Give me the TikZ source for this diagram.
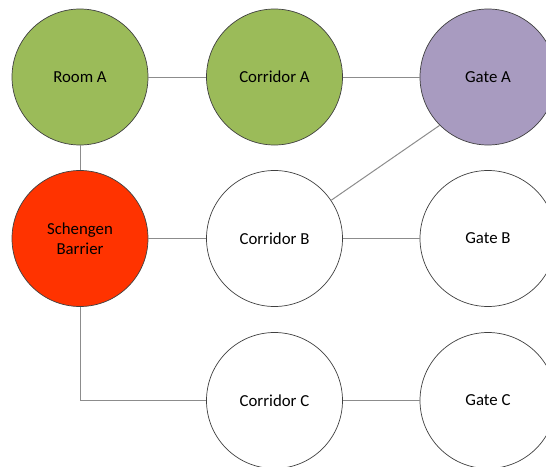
\documentclass[tikz,border=0pt]{standalone}
\usepackage{fontspec}
\setmainfont{Carlito}
\definecolor{roomgreen}{HTML}{9BBB59}
\definecolor{gatepurple}{HTML}{A89BC0}
\definecolor{barrierred}{HTML}{FF3300}
\definecolor{linegray}{HTML}{8C8C8C}
\definecolor{rimgray}{HTML}{404040}
\begin{document}
\begin{tikzpicture}[x=1pt,y=-1pt,
  place/.style={circle,draw=rimgray,line width=0.7pt,minimum size=136pt,inner sep=0pt,
    font=\fontsize{16.8}{20}\selectfont,align=center,text=black},
  link/.style={draw=linegray,line width=1pt}]
\useasboundingbox (0,0) rectangle (546,466);
\node[place,fill=roomgreen] (roomA) at (80,77) {Room A};
\node[place,fill=roomgreen] (corA) at (274.5,77) {Corridor A};
\node[place,fill=gatepurple] (gateA) at (488,77) {Gate A};
\node[place,fill=barrierred] (barrier) at (80,238.5) {Schengen\\Barrier};
\node[place,fill=white] (corB) at (274.5,238.5) {Corridor B};
\node[place,fill=white] (gateB) at (488,238.5) {Gate B};
\node[place,fill=white] (corC) at (274.5,400.5) {Corridor C};
\node[place,fill=white] (gateC) at (488,400.5) {Gate C};
\draw[link] (roomA) -- (corA);
\draw[link] (corA) -- (gateA);
\draw[link] (roomA) -- (barrier);
\draw[link] (barrier) -- (corB);
\draw[link] (corB) -- (gateB);
\draw[link] (corC) -- (gateC);
\draw[link] (gateA.225) -- (corB.34);
\draw[link] (barrier.south) |- (corC.west);
\end{tikzpicture}
\end{document}
